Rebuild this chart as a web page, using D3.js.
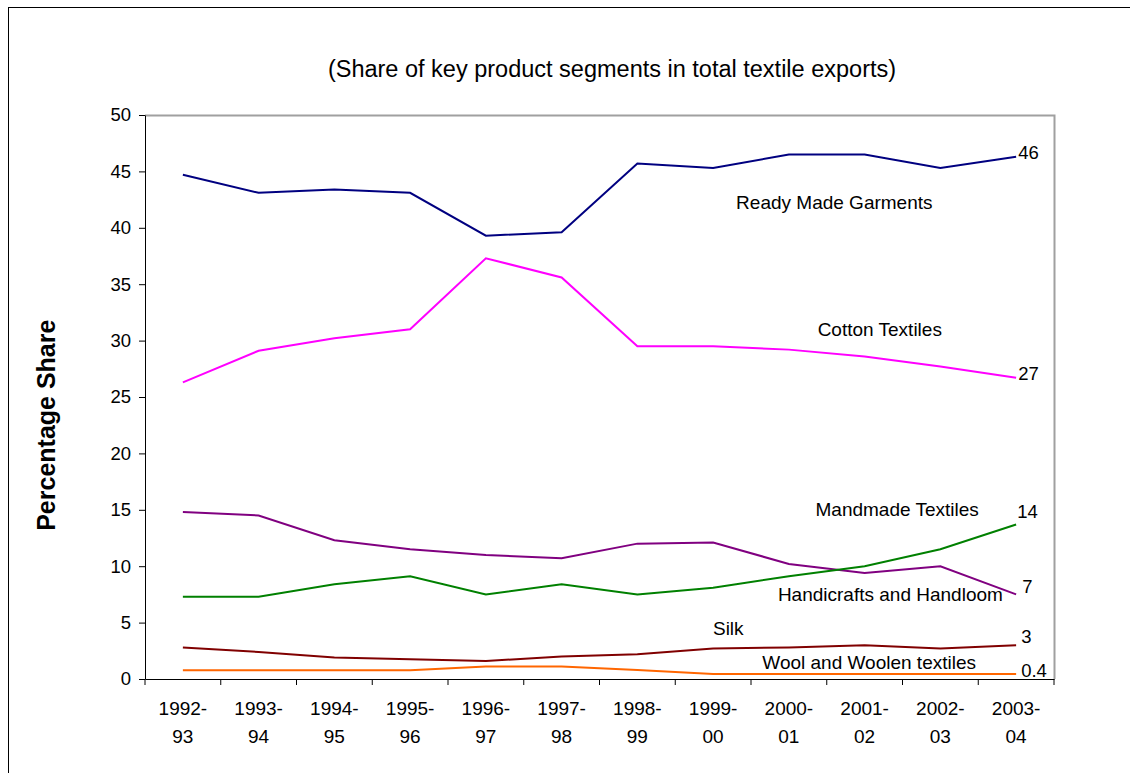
<!DOCTYPE html>
<html>
<head>
<meta charset="utf-8">
<script src="https://cdn.jsdelivr.net/npm/d3@7"></script>
<style>
  body { margin: 0; background: #fff; }
  text { font-family: "Liberation Sans", Arial, sans-serif; fill: #000; }
</style>
</head>
<body>
<div id="chart"></div>
<script>
// Data
var years = ["1992-93", "1993-94", "1994-95", "1995-96", "1996-97", "1997-98",
             "1998-99", "1999-00", "2000-01", "2001-02", "2002-03", "2003-04"];
var garments    = [44.7, 43.1, 43.4, 43.1, 39.3, 39.6, 45.7, 45.3, 46.5, 46.5, 45.3, 46.3];
var cotton      = [26.3, 29.1, 30.2, 31.0, 37.3, 35.6, 29.5, 29.5, 29.2, 28.6, 27.7, 26.7];
var manmade     = [14.8, 14.5, 12.3, 11.5, 11.0, 10.7, 12.0, 12.1, 10.2, 9.4, 10.0, 7.5];
var handicrafts = [7.3, 7.3, 8.4, 9.1, 7.5, 8.4, 7.5, 8.1, 9.1, 10.0, 11.5, 13.7];
var silk        = [2.8, 2.4, 1.9, 1.75, 1.6, 2.0, 2.2, 2.7, 2.8, 3.0, 2.7, 3.0];
var wool        = [0.77, 0.77, 0.77, 0.77, 1.1, 1.1, 0.8, 0.44, 0.44, 0.44, 0.44, 0.44];
var yTicks = [0, 5, 10, 15, 20, 25, 30, 35, 40, 45, 50];

var series = [
  {name: "Ready Made Garments", values: garments, color: "#000080", end: "46"},
  {name: "Cotton Textiles", values: cotton, color: "#ff00ff", end: "27"},
  {name: "Mandmade Textiles", values: manmade, color: "#800080", end: "7"},
  {name: "Handicrafts and Handloom", values: handicrafts, color: "#008000", end: "14"},
  {name: "Silk", values: silk, color: "#800000", end: "3"},
  {name: "Wool and Woolen textiles", values: wool, color: "#ff6600", end: "0.4"}
];

// series name labels: position in category units (x) and value units (y)
var nameLabels = [
  {text: "Ready Made Garments", cat: 8.6, val: 41.7},
  {text: "Cotton Textiles", cat: 9.2, val: 30.4},
  {text: "Mandmade Textiles", cat: 9.43, val: 14.45},
  {text: "Handicrafts and Handloom", cat: 9.34, val: 6.9},
  {text: "Silk", cat: 7.2, val: 3.9},
  {text: "Wool and Woolen textiles", cat: 9.06, val: 0.9}
];
// end value labels: offsets in value units from the last point
var endOffsets = {"46": 0.33, "27": 0.34, "14": 1.1, "7": 0.63, "3": 0.72, "0.4": 0.3};
var endDx = {"46": 2, "27": 2, "14": 1, "7": 6, "3": 5, "0.4": 5};

var W = 1130, H = 773;
var margin = {left: 145, right: 76, top: 115, bottom: 94};

var svg = d3.select("#chart").append("svg")
    .attr("width", W)
    .attr("height", H);

// outer frame
svg.append("rect")
    .attr("x", 8.5).attr("y", 7.5)
    .attr("width", W + 10).attr("height", H + 10)
    .attr("fill", "none")
    .attr("stroke", "#000")
    .attr("stroke-width", 1);

var x = d3.scaleBand()
    .domain(years)
    .range([margin.left, W - margin.right]);

var y = d3.scaleLinear()
    .domain([0, 50])
    .range([H - margin.bottom, margin.top]);

var xc = function(i) { return x(years[0]) + x.step() * (i + 0.5); };

// title
svg.append("text")
    .attr("x", 612)
    .attr("y", 77)
    .attr("text-anchor", "middle")
    .style("font-size", "23.5px")
    .text("(Share of key product segments in total textile exports)");

// plot frame: top and right grey
svg.append("path")
    .attr("d", "M" + margin.left + "," + (y(50) + 0.5) + "H" + (W - margin.right + 0.5) + "V" + y(0))
    .attr("fill", "none")
    .attr("stroke", "#a0a0a0")
    .attr("stroke-width", 2);

// y axis
var yAxis = svg.append("g")
    .attr("transform", "translate(" + margin.left + ",0)")
    .call(d3.axisLeft(y).tickValues(yTicks).tickSize(6).tickPadding(8).tickSizeOuter(0));
yAxis.selectAll("text").style("font-size", "18.5px");
yAxis.selectAll("path, line").attr("stroke", "#000");

// x axis
var xAxis = svg.append("g")
    .attr("transform", "translate(0," + y(0) + ")")
    .call(d3.axisBottom(x).tickSize(0).tickFormat(""));
xAxis.select("path").attr("stroke", "#000");

var bounds = d3.range(years.length + 1);
svg.selectAll("line.xtick")
    .data(bounds)
    .enter().append("line")
    .attr("class", "xtick")
    .attr("x1", function(d) { return margin.left + d * x.step(); })
    .attr("x2", function(d) { return margin.left + d * x.step(); })
    .attr("y1", y(0))
    .attr("y2", y(0) + 6)
    .attr("stroke", "#000");

var xl = svg.selectAll("text.xlab")
    .data(years)
    .enter().append("text")
    .attr("class", "xlab")
    .attr("text-anchor", "middle")
    .style("font-size", "19px")
    .attr("x", function(d) { return x(d) + x.bandwidth() / 2; })
    .attr("y", y(0) + 36);
xl.append("tspan")
    .text(function(d) { return d.split("-")[0] + "-"; });
xl.append("tspan")
    .attr("x", function(d) { return x(d) + x.bandwidth() / 2; })
    .attr("dy", 28)
    .text(function(d) { return d.split("-")[1]; });

// y axis title
svg.append("text")
    .attr("transform", "translate(55," + y(22.5) + ") rotate(-90)")
    .attr("text-anchor", "middle")
    .style("font-size", "25px")
    .style("font-weight", "bold")
    .text("Percentage Share");

// lines
var line = d3.line()
    .x(function(d, i) { return xc(i); })
    .y(function(d) { return y(d); });

svg.selectAll("path.series")
    .data(series)
    .enter().append("path")
    .attr("class", "series")
    .attr("fill", "none")
    .attr("stroke", function(d) { return d.color; })
    .attr("stroke-width", 2)
    .attr("d", function(d) { return line(d.values); });

// series names
svg.selectAll("text.name")
    .data(nameLabels)
    .enter().append("text")
    .attr("class", "name")
    .attr("text-anchor", "middle")
    .style("font-size", "19px")
    .attr("x", function(d) { return xc(d.cat); })
    .attr("y", function(d) { return y(d.val); })
    .text(function(d) { return d.text; });

// end labels
svg.selectAll("text.end")
    .data(series)
    .enter().append("text")
    .attr("class", "end")
    .style("font-size", "18.5px")
    .attr("x", function(d) { return xc(years.length - 1) + endDx[d.end]; })
    .attr("y", function(d) { return y(d.values[d.values.length - 1] + endOffsets[d.end]) + 6; })
    .text(function(d) { return d.end; });
</script>
</body>
</html>
